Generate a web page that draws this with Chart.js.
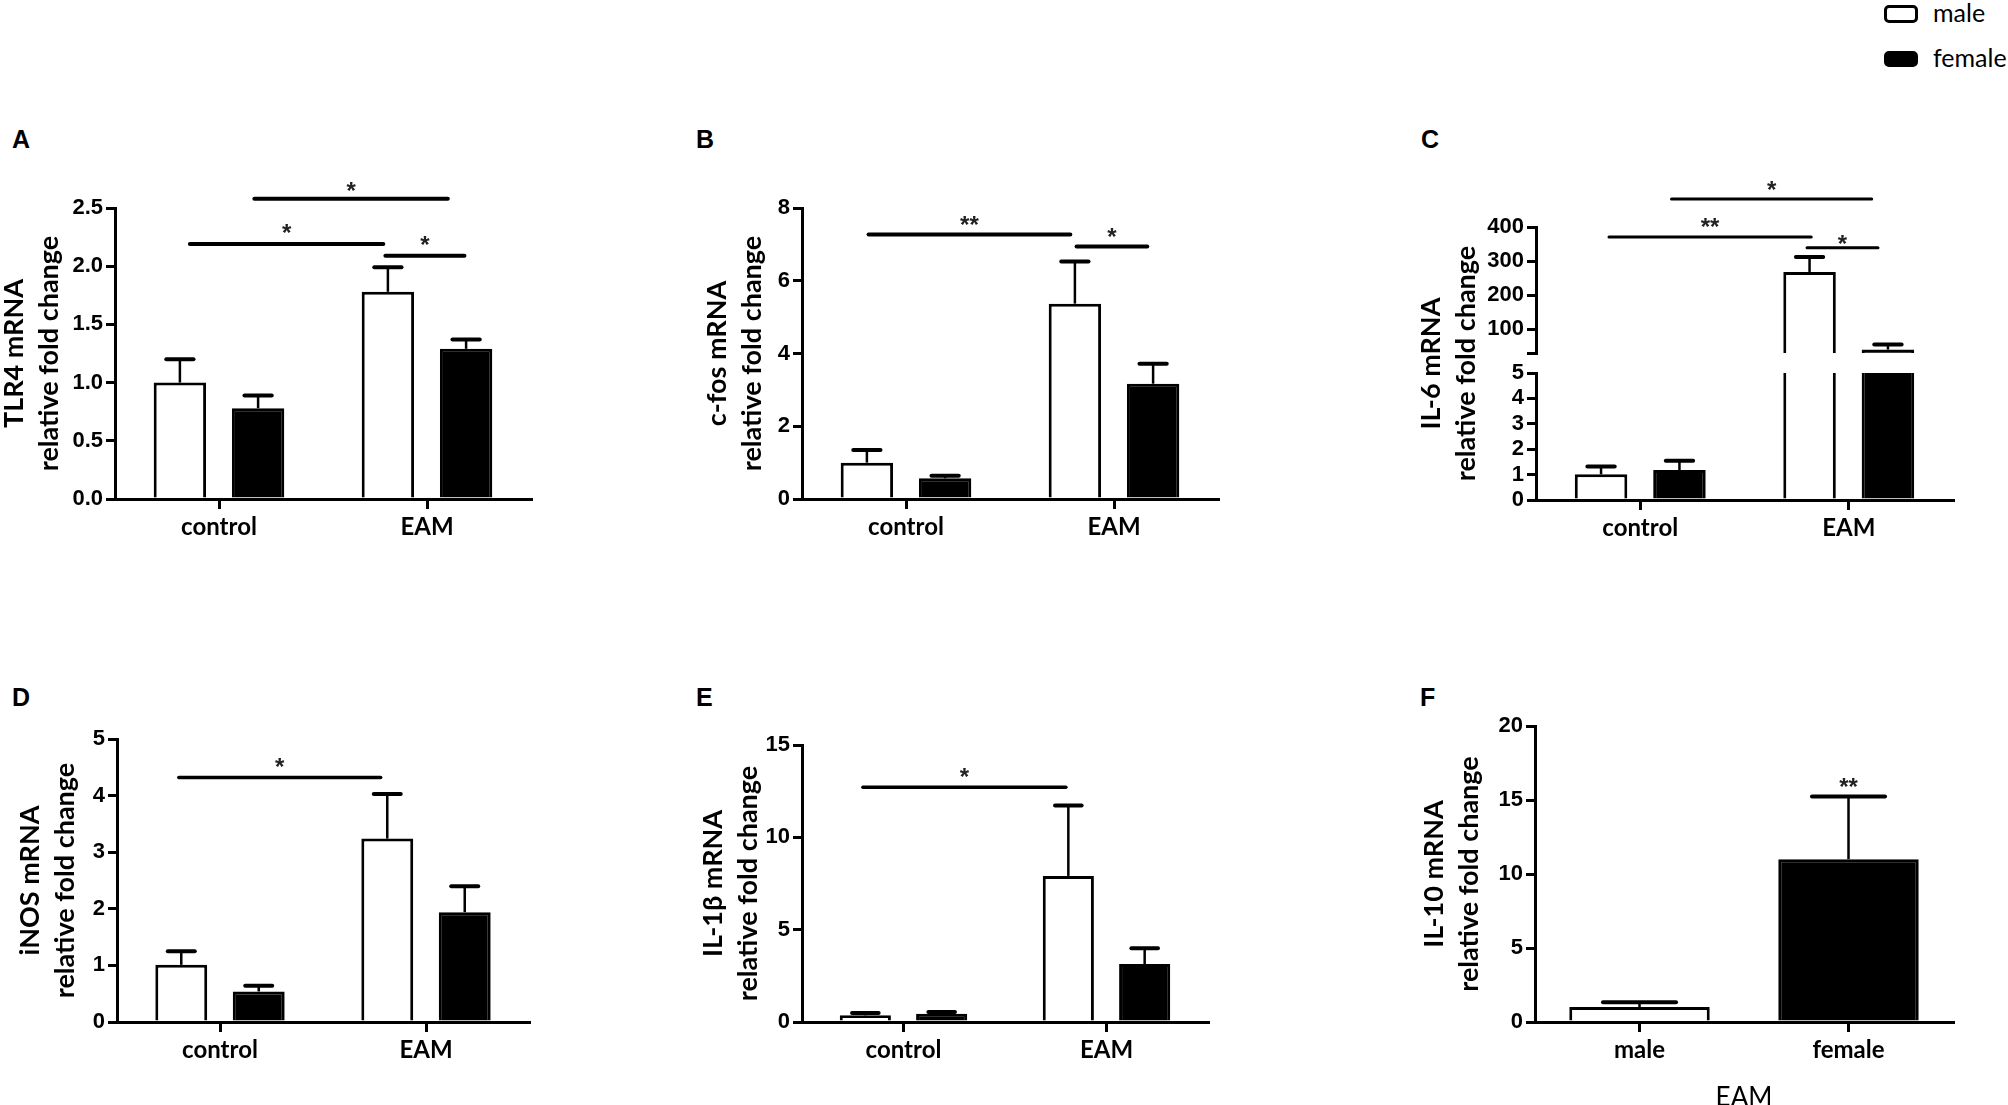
<!DOCTYPE html>
<html>
<head>
<meta charset="UTF-8">
<title>TLR4 pathway mRNA in male and female EAM</title>
<script src="https://cdn.jsdelivr.net/npm/chart.js@4.4.1/dist/chart.umd.min.js"></script>
<style>
body {
  margin: 0;
  width: 2008px;
  height: 1105px;
  overflow: hidden;
  position: relative;
  background: #fff;
}
canvas {
  position: absolute;
}
.letter {
  position: absolute;
  font-family: "Liberation Sans", Arial, sans-serif;
  font-weight: bold;
  font-size: 25px;
  line-height: 25px;
}
.key {
  position: absolute;
  left: 1933px;
  font-family: Lato, sans-serif;
  font-size: 25px;
  line-height: 24px;
  white-space: nowrap;
}
.swatch {
  position: absolute;
  left: 1884px;
  width: 28px;
  border: 3px solid #000;
  border-radius: 5px;
}
</style>
</head>
<body>
<div class="letter" style="left:12px;top:127px">A</div>
<div class="letter" style="left:696px;top:127px">B</div>
<div class="letter" style="left:1421px;top:127px">C</div>
<div class="letter" style="left:12px;top:685px">D</div>
<div class="letter" style="left:696px;top:685px">E</div>
<div class="letter" style="left:1420px;top:685px">F</div>

<div class="swatch" style="top:5px;height:12px;background:#fff"></div>
<div class="key" style="top:0px">male</div>
<div class="swatch" style="top:51px;height:10px;background:#000"></div>
<div class="key" style="top:45px">female</div>

<canvas id="chartA"></canvas>
<canvas id="chartB"></canvas>
<canvas id="chartC"></canvas>
<canvas id="chartD"></canvas>
<canvas id="chartE"></canvas>
<canvas id="chartF"></canvas>
<script>
// groups on the x axis
var groups = ["control", "EAM"];
var sexes = ["male", "female"];

// A: TLR4
var tlr4Male = [1.00, 1.78];
var tlr4MaleSem = [0.20, 0.21];
var tlr4Female = [0.78, 1.29];
var tlr4FemaleSem = [0.11, 0.08];
var tlr4Ticks = [0, 0.5, 1.0, 1.5, 2.0, 2.5];
// significance bars: [from, to, height, mark, mark height], from/to in group index units
var tlr4Sig = [[-0.14, 0.79, 2.19, "*", 2.34], [0.17, 1.10, 2.58, "*", 2.70], [0.80, 1.18, 2.09, "*", 2.23]];

// B: c-fos
var cfosMale = [1.00, 5.37];
var cfosMaleSem = [0.35, 1.16];
var cfosFemale = [0.57, 3.17];
var cfosFemaleSem = [0.07, 0.55];
var cfosTicks = [0, 2, 4, 6, 8];
var cfosSig = [[-0.18, 0.79, 7.27, "**", 7.70], [0.82, 1.16, 6.94, "*", 7.36]];

// C: IL-6 (broken axis)
var il6Male = [1.01, 268];
var il6MaleSem = [0.31, 44];
var il6Female = [1.18, 40];
var il6FemaleSem = [0.37, 15];
var il6LowTicks = [0, 1, 2, 3, 4, 5];
var il6HighTicks = [30, 100, 200, 300, 400];
var il6Sig = [[0.15, 1.11, 482, "*", 527], [-0.15, 0.82, 371, "**", 418], [0.80, 1.14, 339, "*", 369]];

// D: iNOS
var inosMale = [1.01, 3.24];
var inosMaleSem = [0.24, 0.79];
var inosFemale = [0.54, 1.94];
var inosFemaleSem = [0.10, 0.46];
var inosTicks = [0, 1, 2, 3, 4, 5];
var inosSig = [[-0.20, 0.78, 4.32, "*", 4.62]];

// E: IL-1beta
var il1bMale = [0.36, 7.91];
var il1bMaleSem = [0.13, 3.81];
var il1bFemale = [0.45, 3.14];
var il1bFemaleSem = [0.09, 0.86];
var il1bTicks = [0, 5, 10, 15];
var il1bSig = [[-0.20, 0.80, 12.71, "*", 13.6]];

// F: IL-10, EAM only
var il10Values = [1.01, 11.0];
var il10Sem = [0.32, 4.23];
var il10Ticks = [0, 5, 10, 15, 20];
var il10Sig = [[1, 1, null, "**", 16.3]];

var tickFont = {family: "'Liberation Sans', Arial, sans-serif", weight: "bold", size: 22};
var labelFont = {family: "Lato, sans-serif", weight: "bold", size: 24};
var titleFont = {family: "Lato, sans-serif", weight: "bold", size: 27, lineHeight: 1.3};

Chart.defaults.color = "#000";

// error bars and significance marks, drawn through the chart scales
function marks(sems, sig, sigAxis, sigWidth) {
    return {
        id: "marks",
        afterDatasetsDraw: function(chart) {
            var ctx = chart.ctx;
            chart.data.datasets.forEach(function(ds, i) {
                var sem = sems[i];
                if (!sem) return;
                var meta = chart.getDatasetMeta(i);
                var ys = chart.scales[meta.yAxisID];
                meta.data.forEach(function(bar, j) {
                    var v = ds.data[j];
                    if (v < ys.min || v > ys.max) return;
                    var top = ys.getPixelForValue(v + sem[j]);
                    var half = bar.width * 0.26;
                    ctx.save();
                    ctx.strokeStyle = "#000";
                    ctx.lineWidth = 2.5;
                    ctx.beginPath();
                    ctx.moveTo(bar.x, bar.y);
                    ctx.lineTo(bar.x, top);
                    ctx.stroke();
                    ctx.lineWidth = 4;
                    ctx.lineCap = "round";
                    ctx.beginPath();
                    ctx.moveTo(bar.x - half, top);
                    ctx.lineTo(bar.x + half, top);
                    ctx.stroke();
                    ctx.restore();
                });
            });
        },
        afterDraw: function(chart) {
            var ctx = chart.ctx;
            var xs = chart.scales.x;
            var ys = chart.scales[sigAxis];
            sig.forEach(function(s) {
                var x1 = xs.getPixelForValue(s[0]);
                var x2 = xs.getPixelForValue(s[1]);
                ctx.save();
                if (s[2] !== null) {
                    var y = ys.getPixelForValue(s[2]);
                    ctx.strokeStyle = "#000";
                    ctx.lineWidth = sigWidth;
                    ctx.lineCap = "round";
                    ctx.beginPath();
                    ctx.moveTo(x1, y);
                    ctx.lineTo(x2, y);
                    ctx.stroke();
                }
                ctx.fillStyle = "#222";
                ctx.font = "bold 24px 'Liberation Sans', Arial, sans-serif";
                ctx.textAlign = "center";
                ctx.textBaseline = "alphabetic";
                ctx.fillText(s[3], (x1 + x2) / 2, ys.getPixelForValue(s[4]) + 14);
                ctx.restore();
            });
        }
    };
}

function valueAxis(ticks, digits, title, width) {
    return {
        type: "linear",
        position: "left",
        stacked: false,
        min: ticks[0],
        max: ticks[ticks.length - 1],
        afterBuildTicks: function(s) {
            s.ticks = ticks.map(function(v) { return {value: v}; });
        },
        afterFit: function(s) { s.width = width; },
        border: {display: true, color: "#000", width: 3},
        grid: {display: true, drawOnChartArea: false, drawTicks: true, tickLength: 9, color: "#000", lineWidth: 3},
        ticks: {
            color: "#000",
            padding: 3,
            autoSkip: false,
            font: tickFont,
            callback: function(v) { return v.toFixed(digits); }
        },
        title: {display: !!title, text: title, color: "#000", font: titleFont, padding: 0}
    };
}

function groupAxis(height, title) {
    return {
        type: "category",
        offset: true,
        afterFit: function(s) { s.height = height; },
        border: {display: true, color: "#000", width: 3},
        grid: {display: true, offset: false, drawOnChartArea: false, drawTicks: true, tickLength: 10, color: "#000", lineWidth: 3},
        ticks: {color: "#000", padding: 4, font: labelFont, maxRotation: 0, autoSkip: false},
        title: {display: !!title, text: title, color: "#000",
                font: {family: "Lato, sans-serif", size: 26}, padding: 0}
    };
}

function sexBars(male, female, axisId) {
    return [
        {label: sexes[0], data: male, yAxisID: axisId, stack: "male", clip: 0,
         backgroundColor: "#fff", borderColor: "#000", borderWidth: 3,
         categoryPercentage: 0.752, barPercentage: 0.67},
        {label: sexes[1], data: female, yAxisID: axisId, stack: "female", clip: 0,
         backgroundColor: "#000", borderColor: "#000", borderWidth: 3,
         categoryPercentage: 0.752, barPercentage: 0.67}
    ];
}

// cv: canvas box, plot: wanted chart area, both in page pixels
function panel(id, cv, plot, labels, datasets, scales, plugin) {
    var c = document.getElementById(id);
    var w = cv.r - cv.l, h = cv.b - cv.t;
    c.width = w;
    c.height = h;
    c.style.left = cv.l + "px";
    c.style.top = cv.t + "px";
    c.style.width = w + "px";
    c.style.height = h + "px";
    return new Chart(c, {
        type: "bar",
        data: {labels: labels, datasets: datasets},
        options: {
            responsive: false,
            animation: false,
            events: [],
            layout: {padding: {left: 0, top: plot.t - cv.t, right: cv.r - plot.r, bottom: 0}},
            plugins: {legend: {display: false}, tooltip: {enabled: false}},
            scales: scales
        },
        plugins: [plugin]
    });
}

var boxA = {l: -3, t: 110, r: 600, b: 544}, plotA = {l: 115, t: 208, r: 531, b: 499};
panel("chartA", boxA, plotA, groups, sexBars(tlr4Male, tlr4Female, "y"),
    {x: groupAxis(boxA.b - plotA.b), y: valueAxis(tlr4Ticks, 1, ["TLR4 mRNA", "relative fold change"], plotA.l - boxA.l)},
    marks([tlr4MaleSem, tlr4FemaleSem], tlr4Sig, "y", 4));

var boxB = {l: 700, t: 110, r: 1290, b: 544}, plotB = {l: 802, t: 208, r: 1218, b: 499};
panel("chartB", boxB, plotB, groups, sexBars(cfosMale, cfosFemale, "y"),
    {x: groupAxis(boxB.b - plotB.b), y: valueAxis(cfosTicks, 0, ["c-fos mRNA", "relative fold change"], plotB.l - boxB.l)},
    marks([cfosMaleSem, cfosFemaleSem], cfosSig, "y", 4));

// C: lower and upper segments are stacked axes sharing one column
var boxC = {l: 1414, t: 110, r: 2008, b: 544}, plotC = {l: 1536, t: 227, r: 1953, b: 500};
var colC = 52;
var high = valueAxis(il6HighTicks, 0, null, colC);
high.stack = "il6"; high.stackWeight = 126; high.weight = 3;
high.ticks.callback = function(v) { return v === il6HighTicks[0] ? "" : v.toFixed(0); };
var low = valueAxis(il6LowTicks, 0, null, colC);
low.stack = "il6"; low.stackWeight = 127; low.weight = 1;
var gap = {type: "linear", position: "left", stack: "il6", stackWeight: 20, weight: 2,
    afterFit: function(s) { s.width = colC; },
    border: {display: false}, grid: {display: false}, ticks: {display: false}};
var il6Title = {type: "linear", position: "left", weight: 10,
    afterFit: function(s) { s.width = 70; },
    border: {display: false}, grid: {display: false}, ticks: {display: false},
    title: {display: true, text: ["IL-6 mRNA", "relative fold change"], color: "#000", font: titleFont, padding: 0}};
panel("chartC", boxC, plotC, groups,
    sexBars(il6Male, il6Female, "yLow").concat(sexBars(il6Male, il6Female, "yHigh")),
    {x: groupAxis(boxC.b - plotC.b), yHigh: high, yGap: gap, yLow: low, yTitle: il6Title},
    marks([il6MaleSem, il6FemaleSem, il6MaleSem, il6FemaleSem], il6Sig, "yHigh", 3));

var boxD = {l: 13, t: 660, r: 600, b: 1067}, plotD = {l: 117, t: 739, r: 529, b: 1022};
panel("chartD", boxD, plotD, groups, sexBars(inosMale, inosFemale, "y"),
    {x: groupAxis(boxD.b - plotD.b), y: valueAxis(inosTicks, 0, ["iNOS mRNA", "relative fold change"], plotD.l - boxD.l)},
    marks([inosMaleSem, inosFemaleSem], inosSig, "y", 3.5));

var boxE = {l: 696, t: 660, r: 1290, b: 1067}, plotE = {l: 802, t: 745, r: 1208, b: 1022};
panel("chartE", boxE, plotE, groups, sexBars(il1bMale, il1bFemale, "y"),
    {x: groupAxis(boxE.b - plotE.b), y: valueAxis(il1bTicks, 0, ["IL-1\u03b2 mRNA", "relative fold change"], plotE.l - boxE.l)},
    marks([il1bMaleSem, il1bFemaleSem], il1bSig, "y", 3.5));

var boxF = {l: 1417, t: 660, r: 2008, b: 1113}, plotF = {l: 1535, t: 726, r: 1953, b: 1022};
panel("chartF", boxF, plotF, sexes,
    [{label: "EAM", data: il10Values, backgroundColor: ["#fff", "#000"], borderColor: "#000", borderWidth: 3,
      categoryPercentage: 1, barPercentage: 0.672}],
    {x: groupAxis(boxF.b - plotF.b, "EAM"), y: valueAxis(il10Ticks, 0, ["IL-10 mRNA", "relative fold change"], plotF.l - boxF.l)},
    marks([il10Sem], il10Sig, "y", 4));
</script>
</body>
</html>
